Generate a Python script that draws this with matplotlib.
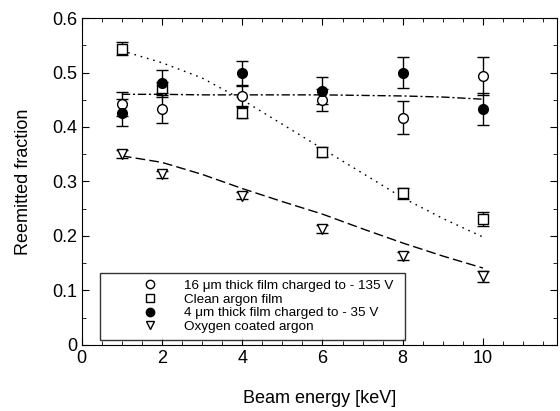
import matplotlib.pyplot as plt
import numpy as np

plt.rcParams['font.family'] = ['Liberation Sans', 'DejaVu Sans']

energy = [1, 2, 4, 6, 8, 10]

film16 = [0.443, 0.433, 0.457, 0.450, 0.417, 0.494]
film16_err = [0.022, 0.025, 0.018, 0.02, 0.03, 0.035]
clean = [0.544, 0.472, 0.426, 0.354, 0.278, 0.231]
clean_err = [0.012, 0.010, 0.010, 0.010, 0.010, 0.012]
film4 = [0.426, 0.480, 0.500, 0.467, 0.500, 0.433]
film4_err = [0.025, 0.025, 0.022, 0.025, 0.028, 0.03]
oxygen = [0.350, 0.313, 0.274, 0.213, 0.163, 0.126]
oxygen_err = [0.007, 0.007, 0.007, 0.007, 0.008, 0.01]

# fit curves
fit_x = [1, 2, 3, 4, 5, 6, 7, 8, 9, 10]
fit_clean = [0.54, 0.518, 0.49, 0.45, 0.405, 0.36, 0.315, 0.27, 0.232, 0.198]
fit_film = [0.46, 0.46, 0.459, 0.459, 0.459, 0.459, 0.458, 0.457, 0.455, 0.451]
fit_oxygen = [0.347, 0.335, 0.313, 0.287, 0.263, 0.24, 0.213, 0.187, 0.163, 0.141]

labels = ['16 \u03bcm thick film charged to - 135 V',
          'Clean argon film',
          '4 \u03bcm thick film charged to - 35 V',
          'Oxygen coated argon']

fig = plt.figure(figsize=(5.6, 4.11), dpi=100)
ax = fig.add_axes([0.146, 0.161, 0.849, 0.795])

ax.plot(fit_x, fit_film, color='black', lw=1, dashes=[6, 2, 1.5, 2])
ax.plot(fit_x, fit_clean, color='black', lw=1, linestyle=(0, (1.2, 3.5)))
ax.plot(fit_x, fit_oxygen, color='black', lw=1, dashes=[7, 3])

kw = dict(color='black', ecolor='black', elinewidth=1, capsize=4, capthick=1, linestyle='none', markersize=7, mew=1)
ax.errorbar(energy, film16, yerr=film16_err, marker='o', mfc='white', **kw)
ax.errorbar(energy, clean, yerr=clean_err, marker='s', mfc='white', **kw)
ax.errorbar(energy, film4, yerr=film4_err, marker='o', mfc='black', **kw)
ax.errorbar(energy, oxygen, yerr=oxygen_err, marker='v', mfc='white', **kw)

handles = [plt.Line2D([], [], marker='o', mfc='white', mec='black', ls='none', ms=6),
           plt.Line2D([], [], marker='s', mfc='white', mec='black', ls='none', ms=6),
           plt.Line2D([], [], marker='o', mfc='black', mec='black', ls='none', ms=6),
           plt.Line2D([], [], marker='v', mfc='white', mec='black', ls='none', ms=6)]
leg = ax.legend(handles, labels, loc='lower left', bbox_to_anchor=(0.038, 0.015, 0.642, 0.19),
                mode='expand', borderaxespad=0, fontsize=9.7, frameon=True, fancybox=False,
                edgecolor='black', handletextpad=-0.67, borderpad=0.5, labelspacing=0.1,
                handlelength=6.4)
leg.get_frame().set_linewidth(1)

ax.set_xlim(0, 11.85)
ax.set_ylim(0, 0.6)
ax.set_xticks([0, 2, 4, 6, 8, 10])
ax.set_xticks(np.arange(0, 11.85, 0.5), minor=True)
ax.set_yticks([0, 0.1, 0.2, 0.3, 0.4, 0.5, 0.6])
ax.set_yticklabels(['0', '0.1', '0.2', '0.3', '0.4', '0.5', '0.6'])
ax.set_yticks(np.arange(0, 0.6, 0.05), minor=True)
ax.tick_params(which='both', direction='in', top=True, right=True, labelsize=13)
ax.tick_params(which='major', length=5)
ax.tick_params(which='minor', length=3)

ax.set_xlabel('Beam energy [keV]', fontsize=13, labelpad=17)
ax.set_ylabel('Reemitted fraction', fontsize=13, labelpad=14)

fig.savefig('out.png', dpi=100)
